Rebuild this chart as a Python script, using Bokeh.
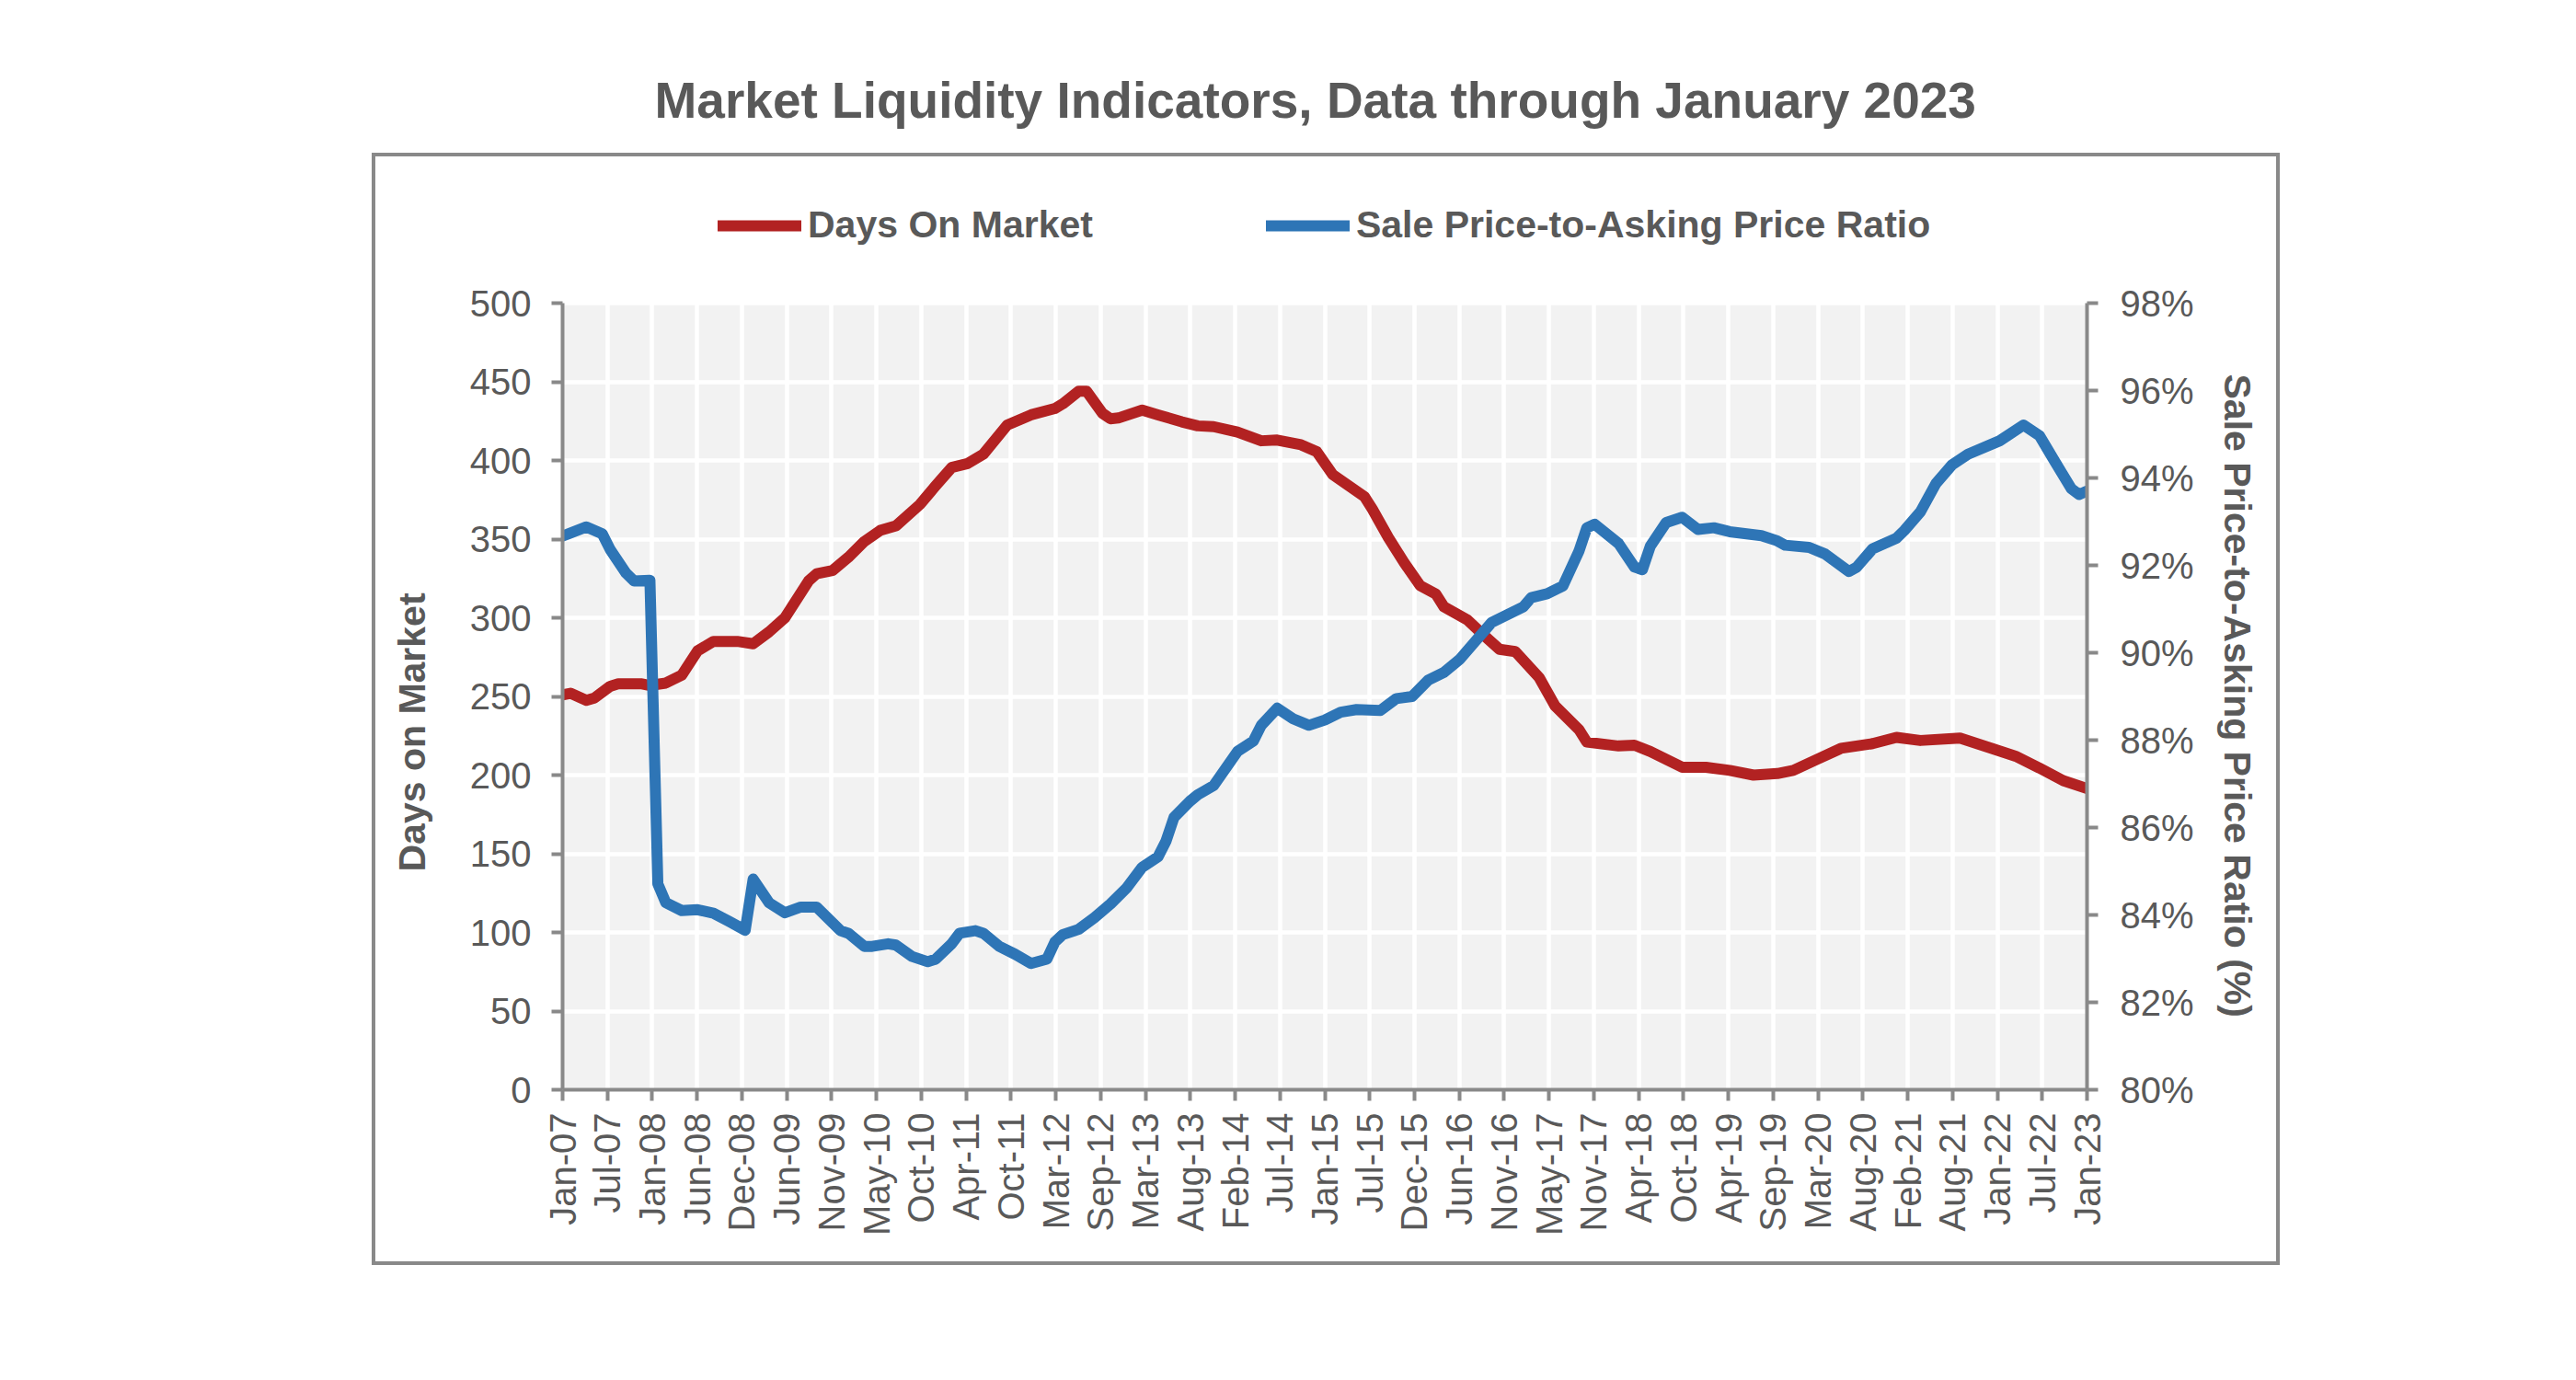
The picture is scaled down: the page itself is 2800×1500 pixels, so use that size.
import math
from bokeh.plotting import figure
from bokeh.models import (Range1d, LinearAxis, FixedTicker, CustomJSTickFormatter,
                          PrintfTickFormatter, Legend, LegendItem, Title, InlineStyleSheet,
                          BoxAnnotation)
from bokeh.embed import file_html
from bokeh.resources import INLINE

# ---------------- data ----------------
title_text = "Market Liquidity Indicators, Data through January 2023"
series_names = ["Days On Market", "Sale Price-to-Asking Price Ratio"]
left_axis_label = "Days on Market"
right_axis_label = "Sale Price-to-Asking Price Ratio (%)"

tick_labels = ["Jan-07", "Jul-07", "Jan-08", "Jun-08", "Dec-08", "Jun-09", "Nov-09",
               "May-10", "Oct-10", "Apr-11", "Oct-11", "Mar-12", "Sep-12", "Mar-13",
               "Aug-13", "Feb-14", "Jul-14", "Jan-15", "Jul-15", "Dec-15", "Jun-16",
               "Nov-16", "May-17", "Nov-17", "Apr-18", "Oct-18", "Apr-19", "Sep-19",
               "Mar-20", "Aug-20", "Feb-21", "Aug-21", "Jan-22", "Jul-22", "Jan-23"]
total_months = 192  # Jan-07 .. Jan-23

# months since Jan-2007, days on market
dom_month = [0, 1, 3, 4, 6, 7, 10, 11, 13, 15, 17, 19, 22, 24, 26, 28, 31, 32, 34, 36,
             38, 40, 42, 45, 47, 49, 51, 53, 56, 59, 62, 63, 65, 66, 68, 69, 70, 73, 75, 78,
             80, 82, 85, 88, 90, 93, 95, 97, 99, 101, 102, 104, 106, 108, 110, 111, 114,
             116, 118, 120, 123, 125, 128, 129, 133, 135, 137, 141, 144, 147, 150, 153,
             155, 158, 161, 165, 168, 171, 176, 180, 183, 186, 189, 192]
dom_days = [251, 252, 247.5, 249, 256.5, 258, 258, 257, 258.5, 263.5, 279, 285, 285, 283.5,
            291, 300, 323.5, 328, 330, 338.5, 348.5, 355.5, 358.5, 372, 384, 395.5, 398, 404,
            422.5, 429, 433, 436, 444, 444, 430, 426.5, 427, 432, 429, 424.5,
            422, 421.5, 418, 412.5, 413, 410, 405.5, 391, 384, 377, 369, 351, 335, 320.5,
            315, 307, 298.5, 289, 280, 278.5, 262, 244, 229, 221, 218.5, 219, 215, 205, 205,
            203, 200, 201, 203, 210, 217, 220, 224, 222, 223.5, 217, 212, 204.5, 196.5, 191.5]

# months since Jan-2007, sale-to-asking price ratio (%)
ratio_month = [0, 1, 3, 5, 6, 8, 9, 11, 12, 13, 15, 17, 19, 21, 23, 24, 26, 28, 30, 32, 33,
               35, 36, 38, 39, 41, 42, 44, 46, 47, 49, 50, 52, 53, 55, 57, 59, 61, 62, 63,
               65, 67, 69, 71, 73, 75, 76, 77, 79, 80, 82, 85, 87, 88, 90, 92, 94, 96, 98,
               100, 103, 105, 107, 109, 111, 113, 115, 117, 119, 121, 122, 124, 126, 128,
               129, 130, 133, 135, 136, 137, 139, 141, 143, 145, 147, 151, 153, 154, 157,
               159, 162, 163, 165, 168, 169, 171, 173, 175, 177, 181, 184, 186, 188, 190,
               191, 192]
ratio_pct = [92.67, 92.74, 92.88, 92.72, 92.36, 91.82, 91.64, 91.66, 84.71, 84.28, 84.10,
             84.12, 84.04, 83.85, 83.65, 84.82, 84.28, 84.05, 84.18, 84.18, 84.0, 83.64,
             83.58, 83.28, 83.28, 83.34, 83.31, 83.05, 82.93, 82.99, 83.34, 83.58, 83.64,
             83.58, 83.28, 83.10, 82.89, 82.99, 83.38, 83.55, 83.67, 83.94, 84.25, 84.61,
             85.09, 85.33, 85.69, 86.23, 86.6, 86.75, 86.96, 87.74, 87.98, 88.34, 88.73,
             88.49, 88.34, 88.46, 88.64, 88.70, 88.68, 88.95, 89.0, 89.37, 89.55, 89.85,
             90.27, 90.69, 90.87, 91.05, 91.26, 91.35, 91.53, 92.32, 92.86, 92.94, 92.50,
             91.96, 91.9, 92.44, 92.98, 93.10, 92.82, 92.86, 92.77, 92.68, 92.56, 92.46,
             92.41, 92.26, 91.86, 91.96, 92.38, 92.62, 92.8, 93.22, 93.88, 94.30, 94.54,
             94.85, 95.21, 94.97, 94.36, 93.76, 93.62, 93.7]

days_ticks = [0, 50, 100, 150, 200, 250, 300, 350, 400, 450, 500]
pct_ticks = [80, 82, 84, 86, 88, 90, 92, 94, 96, 98]

# ---------------- styling / layout ----------------
FONT = "Liberation Sans"
TEXT = "#595959"
AXIS = "#898989"
RED = "#B22222"
BLUE = "#2E75B6"

W, H = 2784, 1480
DATA_LEFT, DATA_RIGHT, DATA_TOP, DATA_BOTTOM = 611, 2268, 329, 1184   # canvas px
FRAME_TOP = 212            # frame extends above the data area to hold the legend
data_h = DATA_BOTTOM - DATA_TOP
head = DATA_TOP - FRAME_TOP
stretch = (data_h + head) / data_h

x_ticks = [i * total_months / (len(tick_labels) - 1) for i in range(len(tick_labels))]

frame_css = InlineStyleSheet(css="""
:host { position: relative; }
:host::after {
  content: ""; position: absolute; pointer-events: none;
  left: 404px; top: 166px; width: 2074px; height: 1209px;
  border: 4px solid #898989; box-sizing: border-box;
}
""")

y_lo, y_hi = days_ticks[0], days_ticks[-1]
p_lo, p_hi = pct_ticks[0], pct_ticks[-1]

p = figure(width=W, height=H, output_backend="svg", toolbar_location=None,
           x_range=Range1d(0, total_months),
           y_range=Range1d(y_lo, y_lo + (y_hi - y_lo) * stretch),
           min_border_left=DATA_LEFT, min_border_right=W - DATA_RIGHT,
           min_border_top=FRAME_TOP, min_border_bottom=H - DATA_BOTTOM,
           background_fill_color="white", border_fill_color="white",
           outline_line_color=None, stylesheets=[frame_css])
p.extra_y_ranges = {"pct": Range1d(p_lo, p_lo + (p_hi - p_lo) * stretch)}

# title: bottom of its text box sits standoff/2 above the frame
title_bottom = 139
p.title = Title(text=title_text, align="left", offset=100, text_font=FONT,
                text_font_style="bold", text_font_size="55px", text_color=TEXT,
                standoff=2 * (FRAME_TOP - title_bottom))

# plot-area background (data region only)
p.add_layout(BoxAnnotation(left=0, right=total_months, bottom=y_lo, top=y_hi,
                           fill_color="#F2F2F2", fill_alpha=1, line_color=None,
                           level="image"))

# grid
p.xgrid.ticker = FixedTicker(ticks=x_ticks)
p.xgrid.cross_bounds = (y_lo, y_hi)
p.ygrid.ticker = FixedTicker(ticks=days_ticks)
for g in (p.xgrid[0], p.ygrid[0]):
    g.grid_line_color = "white"
    g.grid_line_width = 4.5

# axes
xa = p.xaxis[0]
xa.ticker = FixedTicker(ticks=x_ticks)
xa.formatter = CustomJSTickFormatter(args=dict(labels=tick_labels), code="return labels[index];")
xa.major_label_orientation = math.pi / 2
xa.major_label_standoff = 13

ya = p.yaxis[0]
ya.ticker = FixedTicker(ticks=days_ticks)
ya.bounds = (y_lo, y_hi)
ya.major_label_standoff = 22

ra = LinearAxis(y_range_name="pct", ticker=FixedTicker(ticks=pct_ticks),
                formatter=PrintfTickFormatter(format="%d%%"), bounds=(p_lo, p_hi))
ra.major_label_standoff = 24
p.add_layout(ra, "right")

for ax in (xa, ya, ra):
    ax.axis_line_color = AXIS
    ax.axis_line_width = 4
    ax.major_tick_line_color = AXIS
    ax.major_tick_line_width = 4
    ax.major_tick_in = 0
    ax.major_tick_out = 12
    ax.minor_tick_line_color = None
    ax.major_label_text_font = FONT
    ax.major_label_text_font_size = "40px"
    ax.major_label_text_color = TEXT

# axis titles (placed in the side panels, outside the tick labels)
label_style = dict(text_font=FONT, text_font_style="bold", text_font_size="41px",
                   text_color=TEXT, align="left")
p.add_layout(Title(text=left_axis_label, offset=237, standoff=73, **label_style), "left")
p.add_layout(Title(text=right_axis_label, offset=194, standoff=43, **label_style), "right")

# series
r_dom = p.line(dom_month, dom_days, line_color=RED, line_width=12,
               line_cap="round", line_join="round")
r_ratio = p.line(ratio_month, ratio_pct, y_range_name="pct", line_color=BLUE, line_width=12,
                 line_cap="round", line_join="round")

# legend in the head room above the data area (offsets from frame bottom-left)
legend = Legend(items=[LegendItem(label=series_names[0], renderers=[r_dom]),
                       LegendItem(label=series_names[1], renderers=[r_ratio])],
                orientation="horizontal", location=(169, DATA_BOTTOM - 268),
                label_text_font=FONT, label_text_font_style="bold",
                label_text_font_size="41px", label_text_color=TEXT,
                glyph_width=91, glyph_height=40, label_height=40,
                label_standoff=7, spacing=188, padding=0, margin=0,
                border_line_color=None, background_fill_alpha=0)
p.add_layout(legend)

with open("out.html", "w") as f:
    f.write(file_html(p, INLINE))
